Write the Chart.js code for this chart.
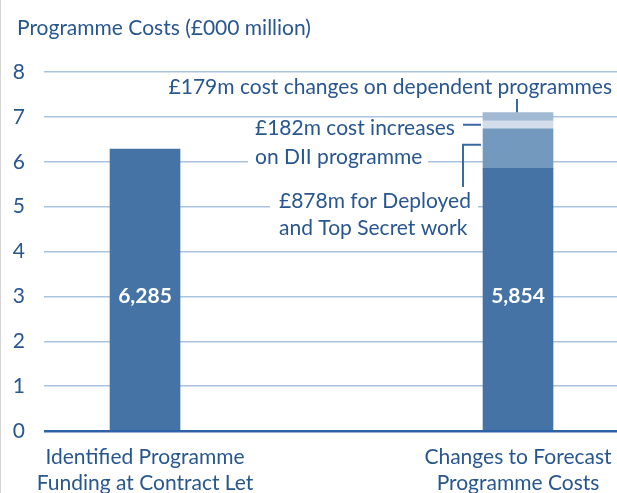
<!DOCTYPE html>
<html>
<head>
<meta charset="utf-8">
<script src="https://cdn.jsdelivr.net/npm/chart.js@4/dist/chart.umd.min.js"></script>
<style>
  html, body { margin: 0; padding: 0; background: #ffffff; }
  #wrap { width: 617px; height: 493px; position: relative; }
</style>
</head>
<body>
<div id="wrap"><canvas id="c" width="617" height="493"></canvas></div>
<script>
// ---- data (values in £000 million) ----
const categories = [
  ['Identified Programme', 'Funding at Contract Let'],
  ['Changes to Forecast', 'Programme Costs']
];
const contractFunding   = [6.285, null];
const forecastBase      = [null, 5.854];
const deployedTopSecret = [null, 0.878];
const diiIncrease       = [null, 0.182];
const dependentChanges  = [null, 0.179];
const yTicks = [0, 1, 2, 3, 4, 5, 6, 7, 8];
const titleText = 'Programme Costs (£000 million)';
const noteDependent = '£179m cost changes on dependent programmes';
const noteDII = ['£182m cost increases', 'on DII programme'];
const noteDeployed = ['£878m for Deployed', 'and Top Secret work'];

const TEXT = '#28568f';
const LINE = '#3a68a3';
const FONT = 'Lato';
const X_MIN = -0.2708, X_MAX = 1.2654;

function pts(arr) {
  return arr.map((v, i) => v == null ? null : { x: i, y: v }).filter(p => p);
}

const annotPlugin = {
  id: 'annot',
  beforeDatasetsDraw(chart) {
    const ctx = chart.ctx;
    const xs = chart.scales.x, ys = chart.scales.y;
    const bx = xs.getPixelForValue(1);
    const barL = bx - 35;
    const yTop = ys.getPixelForValue(forecastBase[1] + deployedTopSecret[1] + diiIncrease[1] + dependentChanges[1]);
    const yDii = ys.getPixelForValue(forecastBase[1] + deployedTopSecret[1] + diiIncrease[1] / 2);
    const yDep = ys.getPixelForValue(forecastBase[1] + deployedTopSecret[1] * 0.6);
    ctx.save();
    ctx.font = '21px ' + FONT;
    ctx.textBaseline = 'middle';
    // white boxes interrupting gridlines
    ctx.fillStyle = '#ffffff';
    ctx.fillRect(248, 140, 180, 32);
    ctx.fillRect(270, 186, 208, 56);
    ctx.fillStyle = TEXT;
    ctx.textAlign = 'right';
    ctx.fillText(noteDependent, 612, 87);
    ctx.textAlign = 'left';
    ctx.fillText(noteDII[0], 255, 128);
    ctx.fillText(noteDII[1], 255, 157);
    ctx.fillText(noteDeployed[0], 279, 201);
    ctx.fillText(noteDeployed[1], 279, 228);
    // leader lines
    ctx.strokeStyle = LINE;
    ctx.lineWidth = 2;
    ctx.beginPath();
    ctx.moveTo(bx - 1, 99); ctx.lineTo(bx - 1, yTop);
    ctx.moveTo(463, yDii); ctx.lineTo(barL - 2, yDii);
    ctx.moveTo(barL - 2, yDep); ctx.lineTo(463, yDep); ctx.lineTo(463, 187);
    ctx.stroke();
    ctx.restore();
  },
  afterDatasetsDraw(chart) {
    const ctx = chart.ctx;
    const xs = chart.scales.x, ys = chart.scales.y;
    ctx.save();
    ctx.font = 'bold 21px ' + FONT;
    ctx.fillStyle = '#ffffff';
    ctx.textAlign = 'center';
    ctx.textBaseline = 'middle';
    const vals = [contractFunding[0], forecastBase[1]];
    vals.forEach((v, i) => {
      ctx.fillText(Math.round(v * 1000).toLocaleString('en-GB'), xs.getPixelForValue(i), ys.getPixelForValue(3));
    });
    // title
    ctx.font = '21px ' + FONT;
    ctx.fillStyle = TEXT;
    ctx.textAlign = 'left';
    ctx.fillText(titleText, 17, 28);
    // left border
    ctx.strokeStyle = '#d4d4d4';
    ctx.lineWidth = 1;
    ctx.beginPath();
    ctx.moveTo(0.5, 0); ctx.lineTo(0.5, 493);
    ctx.stroke();
    ctx.restore();
  }
};

const chart = new Chart(document.getElementById('c'), {
  type: 'bar',
  data: {
    datasets: [
      { data: pts(contractFunding),   backgroundColor: '#4673a6' },
      { data: pts(forecastBase),      backgroundColor: '#4673a6' },
      { data: pts(deployedTopSecret), backgroundColor: '#7499bf' },
      { data: pts(diiIncrease),       backgroundColor: '#d3deea' },
      { data: pts(dependentChanges),  backgroundColor: '#a2b9d4' }
    ]
  },
  options: {
    responsive: false,
    animation: false,
    events: [],
    layout: { padding: { top: 72, left: 0, right: 0, bottom: 0 } },
    datasets: { bar: { barThickness: 70, borderWidth: 0 } },
    plugins: { legend: { display: false }, tooltip: { enabled: false }, title: { display: false } },
    scales: {
      x: {
        type: 'linear',
        stacked: true,
        offset: false,
        bounds: 'data',
        min: X_MIN,
        max: X_MAX,
        afterFit(s) { s.height = 62; s.paddingLeft = 0; s.paddingRight = 0; },
        afterDataLimits(s) { s.min = X_MIN; s.max = X_MAX; },
        afterBuildTicks(s) { s.ticks = categories.map((c, i) => ({ value: i })); },
        grid: { display: false, offset: false },
        border: { display: false },
        ticks: {
          padding: 5,
          color: TEXT,
          font: { family: FONT, size: 21, lineHeight: 1.25 },
          maxRotation: 0,
          autoSkip: false,
          callback: (v) => categories[v]
        }
      },
      y: {
        stacked: true,
        min: 0,
        max: 8,
        afterFit(s) { s.width = 44; s.paddingTop = 0; s.paddingBottom = 0; },
        afterBuildTicks(s) { s.ticks = yTicks.map(v => ({ value: v })); },
        border: { display: false },
        grid: {
          drawTicks: false,
          color: (c) => c.tick && c.tick.value === 0 ? '#2d62a6' : '#aac4df',
          lineWidth: (c) => c.tick && c.tick.value === 0 ? 2.5 : 1.5
        },
        ticks: {
          padding: 19,
          color: TEXT,
          font: { family: FONT, size: 21 }
        }
      }
    }
  },
  plugins: [annotPlugin]
});
</script>
</body>
</html>
